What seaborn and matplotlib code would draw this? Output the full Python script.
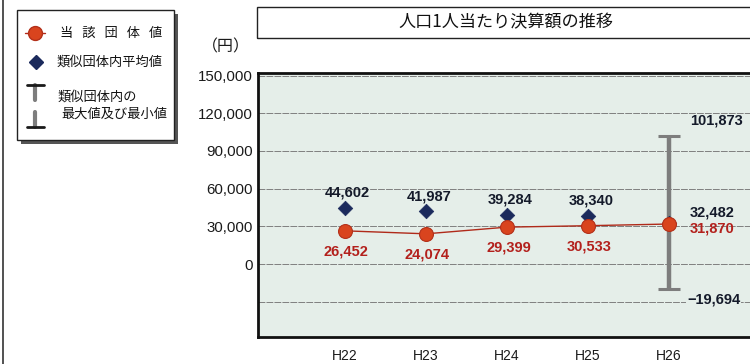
import matplotlib
matplotlib.use("Agg")
import matplotlib.pyplot as plt
from matplotlib.patches import Rectangle
from matplotlib.lines import Line2D
import seaborn as sns
import pandas as pd

# ---- data ----
years = ["H22", "H23", "H24", "H25", "H26"]
own_values = [26452, 24074, 29399, 30533, 31870]        # 当該団体値
similar_avg = [44602, 41987, 39284, 38340, 32482]       # 類似団体内平均値
similar_max = 101873                                    # 類似団体内の最大値
similar_min = -19694                                    # 類似団体内の最小値
ytick_values = [150000, 120000, 90000, 60000, 30000, 0, -30000]
ytick_labels = ["150,000", "120,000", "90,000", "60,000", "30,000", "0", ""]
title_text = "人口1人当たり決算額の推移"
unit_text = "（円）"
legend_own = "当   該   団   体   値"
legend_avg = "類似団体内平均値"
legend_range = ["類似団体内の", "最大値及び最小値"]

sns.set_style("white")
plt.rcParams["font.family"] = ["Liberation Sans", "Noto Sans CJK JP", "DejaVu Sans"]
JP = ["Noto Sans CJK JP", "DejaVu Sans"]

W, H = 750, 364
RED_FACE = "#d9441e"
RED_EDGE = "#b3301a"
RED_LINE = "#b02a1a"
RED_TEXT = "#b3201c"
NAVY = "#1b2a5c"
DARK = "#141a2a"


def fx(px):
    return px / W


def fy(py):
    return 1 - py / H


fig = plt.figure(figsize=(7.5, 3.64), dpi=100)
fig.patch.set_facecolor("white")

# plot area
ax = fig.add_axes([fx(258), fy(337), fx(778 - 258), (337 - 73) / H])
ax.set_facecolor("#e5eee9")

df = pd.DataFrame({
    "x": list(range(len(years))),
    "year": years,
    "own": own_values,
    "avg": similar_avg,
})

# range bar for the latest year
last = len(years) - 1
eb = ax.errorbar([last], [similar_min], yerr=[[0], [similar_max - similar_min]],
                 fmt="none", ecolor="#7d7d7d", elinewidth=3.2, capsize=8,
                 capthick=2.2, zorder=2)
for cap in eb[1]:
    cap.set_color("#1a1a1a")

sns.scatterplot(data=df, x="x", y="avg", marker="D", s=55, color=NAVY,
                edgecolor=NAVY, linewidth=0.5, ax=ax, zorder=3, legend=False)
sns.lineplot(data=df, x="x", y="own", color=RED_LINE, linewidth=1.0,
             marker="o", markersize=10, markerfacecolor=RED_FACE,
             markeredgecolor=RED_EDGE, markeredgewidth=0.8, ax=ax, zorder=4)

ax.set_xlim(-87 / 81, (778 - 345) / 81)
ax.set_ylim(-58000, 152000)
ax.set_yticks(ytick_values)
ax.set_yticklabels(ytick_labels)
ax.set_xticks(df["x"])
ax.set_xticklabels(years)
ax.set_xlabel("")
ax.set_ylabel("")
ax.tick_params(axis="y", length=0, pad=4, labelsize=10.8, labelcolor="#1a1a1a")
ax.tick_params(axis="x", length=0, pad=9, labelsize=10, labelcolor="#1a1a1a")
ax.yaxis.grid(True, color="#7f7f7f", linewidth=0.7, linestyle=(0, (7, 1.2)))
ax.xaxis.grid(False)
ax.set_axisbelow(True)
for side in ["left", "top", "bottom"]:
    ax.spines[side].set_visible(True)
    ax.spines[side].set_color("#111111")
    ax.spines[side].set_linewidth(2)
ax.spines["right"].set_visible(False)

# value labels
for i in range(last):
    ax.annotate(f"{similar_avg[i]:,}", (i, similar_avg[i]), xytext=(2, 11),
                textcoords="offset points", ha="center", va="center",
                fontsize=10.5, fontweight="bold", color=DARK, zorder=5)
    ax.annotate(f"{own_values[i]:,}", (i, own_values[i]), xytext=(1, -15),
                textcoords="offset points", ha="center", va="center",
                fontsize=10.5, fontweight="bold", color=RED_TEXT, zorder=5)

ax.annotate(f"{similar_avg[last]:,}", (last, own_values[last]), xytext=(15, 8),
            textcoords="offset points", ha="left", va="center",
            fontsize=10.5, fontweight="bold", color=DARK, zorder=5)
ax.annotate(f"{own_values[last]:,}", (last, own_values[last]), xytext=(15, -3),
            textcoords="offset points", ha="left", va="center",
            fontsize=10.5, fontweight="bold", color=RED_TEXT, zorder=5)
ax.annotate(f"{similar_max:,}", (last, similar_max), xytext=(15, 11),
            textcoords="offset points", ha="left", va="center",
            fontsize=10.5, fontweight="bold", color=DARK, zorder=5)
ax.annotate(f"\u2212{abs(similar_min):,}", (last, similar_min), xytext=(13, -8),
            textcoords="offset points", ha="left", va="center",
            fontsize=10.5, fontweight="bold", color=DARK, zorder=5,
            bbox=dict(boxstyle="square,pad=0.05", fc="#e5eee9", ec="none"))

# unit label
fig.text(fx(226), fy(47), unit_text, ha="center", va="center",
         fontsize=11.5, family=JP, color="#1a1a1a")

# title box
fig.add_artist(Rectangle((fx(257), fy(38)), fx(800 - 257), 31 / H,
                         transform=fig.transFigure, fill=False,
                         edgecolor="#222222", linewidth=1.0))
fig.text(fx(506), fy(22), title_text, ha="center", va="center",
         fontsize=12.3, family=JP, color="#111111")

# legend box with shadow
fig.add_artist(Rectangle((fx(21), fy(144)), fx(157), 130 / H,
                         transform=fig.transFigure, facecolor="#555555",
                         edgecolor="none"))
fig.add_artist(Rectangle((fx(17), fy(140)), fx(157), 130 / H,
                         transform=fig.transFigure, facecolor="white",
                         edgecolor="#222222", linewidth=1.0))

# legend: own value
fig.add_artist(Line2D([fx(25), fx(45)], [fy(33), fy(33)], transform=fig.transFigure,
                      color=RED_LINE, linewidth=1.0))
fig.add_artist(Line2D([fx(35)], [fy(33)], transform=fig.transFigure, marker="o",
                      markersize=10, markerfacecolor=RED_FACE,
                      markeredgecolor=RED_EDGE, linestyle="none"))
fig.text(fx(60), fy(33), legend_own, ha="left", va="center", fontsize=9.5,
         family=JP, color="#111111")

# legend: average
fig.add_artist(Line2D([fx(36)], [fy(62)], transform=fig.transFigure, marker="D",
                      markersize=7, color=NAVY, linestyle="none"))
fig.text(fx(56), fy(62), legend_avg, ha="left", va="center", fontsize=9.5,
         family=JP, color="#111111")

# legend: range bar symbol
for y0, y1, yc in [(85, 100, 85), (112, 127, 127)]:
    fig.add_artist(Line2D([fx(35), fx(35)], [fy(y0), fy(y1)], transform=fig.transFigure,
                          color="#7d7d7d", linewidth=3))
    fig.add_artist(Line2D([fx(27), fx(44)], [fy(yc), fy(yc)], transform=fig.transFigure,
                          color="#1a1a1a", linewidth=2))
fig.text(fx(58), fy(97), legend_range[0], ha="left", va="center", fontsize=9.5,
         family=JP, color="#111111")
fig.text(fx(61), fy(114), legend_range[1], ha="left", va="center", fontsize=9.5,
         family=JP, color="#111111")

# outer frame edge on the left
fig.add_artist(Line2D([fx(2.5), fx(2.5)], [0, 1], transform=fig.transFigure,
                      color="#333333", linewidth=1.2))

fig.savefig("out.png", dpi=100)
